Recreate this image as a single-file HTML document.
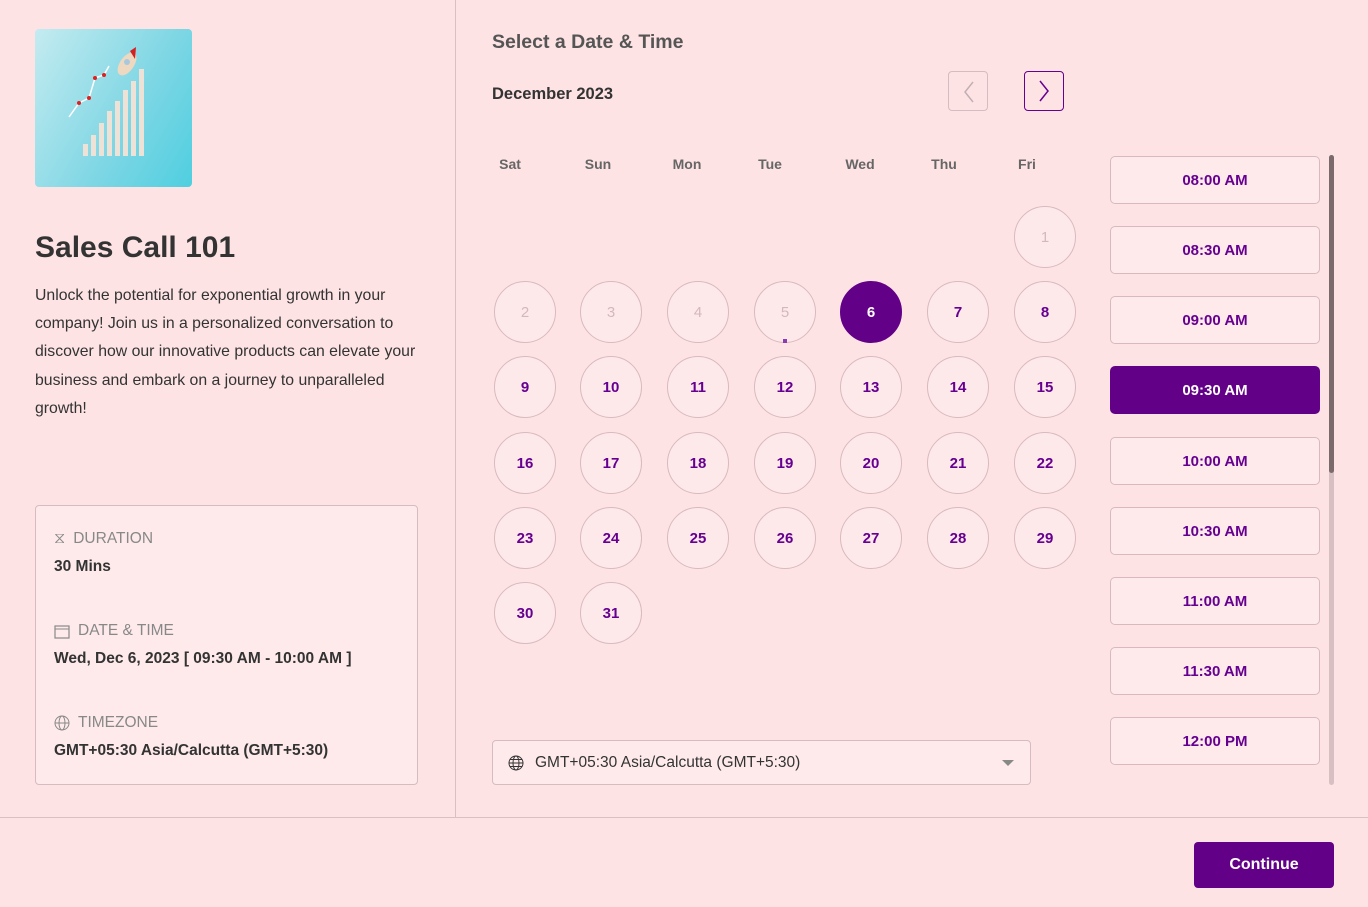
<!DOCTYPE html>
<html><head><meta charset="utf-8"><style>
*{margin:0;padding:0;box-sizing:border-box}
body{width:1368px;height:907px;background:#fee3e4;font-family:"Liberation Sans",Arial,sans-serif;position:relative;overflow:hidden;color:#333}
.a{position:absolute}
.c{position:absolute;width:62px;height:62px;border-radius:50%;border:1px solid #d9b9bd;background:#fee9ea;color:#660091;font-weight:bold;font-size:15px;display:flex;align-items:center;justify-content:center}
.c.d{color:#d3b8bc;font-weight:normal}
.c.s{background:#620088;border-color:#620088;color:#fff}
.t{position:absolute;left:1110px;width:210px;height:48px;border:1px solid #d9b9bd;border-radius:5px;background:#feeaeb;color:#660091;font-weight:bold;font-size:15px;display:flex;align-items:center;justify-content:center}
.t.s{background:#620088;border-color:#620088;color:#fff}
.w{position:absolute;top:156px;font-size:14px;font-weight:bold;color:#666;transform:translateX(-50%)}
.lab{font-size:15.5px;color:#888;display:flex;align-items:center;gap:8px;height:20px}
.val{font-size:15.5px;font-weight:bold;color:#333;margin-top:9px}
</style></head><body>
<div class="a" style="left:455px;top:0;width:1px;height:818px;background:#d8c0c3"></div>
<div class="a" style="left:0;top:817px;width:1368px;height:1px;background:#d8c0c3"></div>

<div class="a" style="left:35px;top:29px;width:157px;height:158px;border-radius:4px;background:linear-gradient(120deg,#c4ebf0,#7dd6e4 60%,#4fcfe0);overflow:hidden">
<svg width="157" height="158">
<g fill="#eee2d6"><rect x="48" y="115" width="5" height="12"/><rect x="56" y="106" width="5" height="21"/><rect x="64" y="94" width="5" height="33"/><rect x="72" y="82" width="5" height="45"/><rect x="80" y="72" width="5" height="55"/><rect x="88" y="61" width="5" height="66"/><rect x="96" y="52" width="5" height="75"/><rect x="104" y="40" width="5" height="87"/></g>
<polyline points="34,88 44,74 54,69 60,49 69,46 74,37" stroke="#fff" stroke-width="1.5" fill="none"/>
<g fill="#e02020"><circle cx="44" cy="74" r="2"/><circle cx="54" cy="69" r="2"/><circle cx="60" cy="49" r="2"/><circle cx="69" cy="46" r="2"/></g>
<ellipse cx="92" cy="35" rx="7" ry="13" transform="rotate(35 92 35)" fill="#efd8c0"/>
<path d="M95 22 L101 18 L100 30 Z" fill="#d62020"/>
<circle cx="92" cy="33" r="3" fill="#a8c8de"/>
</svg></div>

<div class="a" style="left:35px;top:231px;font-size:30px;font-weight:bold;color:#333">Sales Call 101</div>
<div class="a" style="left:35px;top:282px;width:392px;font-size:15.8px;line-height:28.2px;color:#333">Unlock the potential for exponential growth in your company! Join us in a personalized conversation to discover how our innovative products can elevate your business and embark on a journey to unparalleled growth!</div>

<div class="a" style="left:35px;top:505px;width:383px;height:280px;border:1px solid #d4bcc0;border-radius:4px;background:#feeaeb;padding:23px 0 0 18px">
<div class="lab"><span style="font-size:16px">⧖</span>DURATION</div><div class="val">30 Mins</div>
<div class="lab" style="margin-top:45px"><svg width="16" height="15"><rect x="1" y="2" width="14" height="12" fill="none" stroke="#888" stroke-width="1.2"/><line x1="1" y1="5" x2="15" y2="5" stroke="#888"/></svg>DATE &amp; TIME</div><div class="val">Wed, Dec 6, 2023 [ 09:30 AM - 10:00 AM ]</div>
<div class="lab" style="margin-top:45px"><svg width="16" height="16"><circle cx="8" cy="8" r="7" fill="none" stroke="#888"/><ellipse cx="8" cy="8" rx="3" ry="7" fill="none" stroke="#888"/><line x1="1" y1="8" x2="15" y2="8" stroke="#888"/></svg>TIMEZONE</div><div class="val">GMT+05:30 Asia/Calcutta (GMT+5:30)</div>
</div>

<div class="a" style="left:492px;top:31px;font-size:19.5px;font-weight:bold;color:#555">Select a Date &amp; Time</div>
<div class="a" style="left:492px;top:85px;font-size:16.5px;font-weight:bold;color:#333">December 2023</div>
<div class="a" style="left:948px;top:71px;width:40px;height:40px;border:1px solid #d4bcc0;border-radius:4px"><svg width="40" height="40"><polyline points="24,10 16,20 24,30" fill="none" stroke="#c0b0b2" stroke-width="1.5"/></svg></div>
<div class="a" style="left:1024px;top:71px;width:40px;height:40px;border:1.5px solid #660091;border-radius:4px"><svg width="38" height="38"><polyline points="15,9 23,19 15,29" fill="none" stroke="#660091" stroke-width="1.5"/></svg></div>

<div class="w" style="left:510px">Sat</div><div class="w" style="left:598px">Sun</div><div class="w" style="left:687px">Mon</div><div class="w" style="left:770px">Tue</div><div class="w" style="left:860px">Wed</div><div class="w" style="left:944px">Thu</div><div class="w" style="left:1027px">Fri</div>

<div class="c d" style="left:1014px;top:206px">1</div>
<div class="c d" style="left:494px;top:281px">2</div>
<div class="c d" style="left:580px;top:281px">3</div>
<div class="c d" style="left:667px;top:281px">4</div>
<div class="c d" style="left:754px;top:281px">5<span style="position:absolute;left:28px;top:57px;width:4px;height:4px;background:#8a3cb0"></span></div>
<div class="c s" style="left:840px;top:281px">6</div>
<div class="c" style="left:927px;top:281px">7</div>
<div class="c" style="left:1014px;top:281px">8</div>
<div class="c" style="left:494px;top:356px">9</div><div class="c" style="left:580px;top:356px">10</div><div class="c" style="left:667px;top:356px">11</div><div class="c" style="left:754px;top:356px">12</div><div class="c" style="left:840px;top:356px">13</div><div class="c" style="left:927px;top:356px">14</div><div class="c" style="left:1014px;top:356px">15</div>
<div class="c" style="left:494px;top:432px">16</div><div class="c" style="left:580px;top:432px">17</div><div class="c" style="left:667px;top:432px">18</div><div class="c" style="left:754px;top:432px">19</div><div class="c" style="left:840px;top:432px">20</div><div class="c" style="left:927px;top:432px">21</div><div class="c" style="left:1014px;top:432px">22</div>
<div class="c" style="left:494px;top:507px">23</div><div class="c" style="left:580px;top:507px">24</div><div class="c" style="left:667px;top:507px">25</div><div class="c" style="left:754px;top:507px">26</div><div class="c" style="left:840px;top:507px">27</div><div class="c" style="left:927px;top:507px">28</div><div class="c" style="left:1014px;top:507px">29</div>
<div class="c" style="left:494px;top:582px">30</div><div class="c" style="left:580px;top:582px">31</div>

<div class="t" style="top:156px">08:00 AM</div>
<div class="t" style="top:226px">08:30 AM</div>
<div class="t" style="top:296px">09:00 AM</div>
<div class="t s" style="top:366px">09:30 AM</div>
<div class="t" style="top:437px">10:00 AM</div>
<div class="t" style="top:507px">10:30 AM</div>
<div class="t" style="top:577px">11:00 AM</div>
<div class="t" style="top:647px">11:30 AM</div>
<div class="t" style="top:717px">12:00 PM</div>
<div class="a" style="left:1329px;top:155px;width:5px;height:630px;border-radius:3px;background:#d8bfc2"></div>
<div class="a" style="left:1329px;top:155px;width:5px;height:318px;border-radius:3px;background:#7a6a6c"></div>

<div class="a" style="left:492px;top:740px;width:539px;height:45px;border:1px solid #d4bcc0;border-radius:4px;background:#feeaeb;display:flex;align-items:center;padding-left:15px;font-size:15.5px;color:#333">
<svg width="16" height="16" style="margin-right:11px"><circle cx="8" cy="8" r="7" fill="none" stroke="#333"/><ellipse cx="8" cy="8" rx="3" ry="7" fill="none" stroke="#333"/><line x1="1" y1="8" x2="15" y2="8" stroke="#333"/><line x1="2" y1="4.5" x2="14" y2="4.5" stroke="#333"/><line x1="2" y1="11.5" x2="14" y2="11.5" stroke="#333"/></svg>GMT+05:30 Asia/Calcutta (GMT+5:30)
<svg class="a" style="left:509px;top:19px" width="12" height="7"><polygon points="0,0 12,0 6,6" fill="#888"/></svg></div>

<div class="a" style="left:1194px;top:842px;width:140px;height:46px;border-radius:4px;background:#620088;color:#fff;font-weight:bold;font-size:16px;display:flex;align-items:center;justify-content:center">Continue</div>
</body></html>
